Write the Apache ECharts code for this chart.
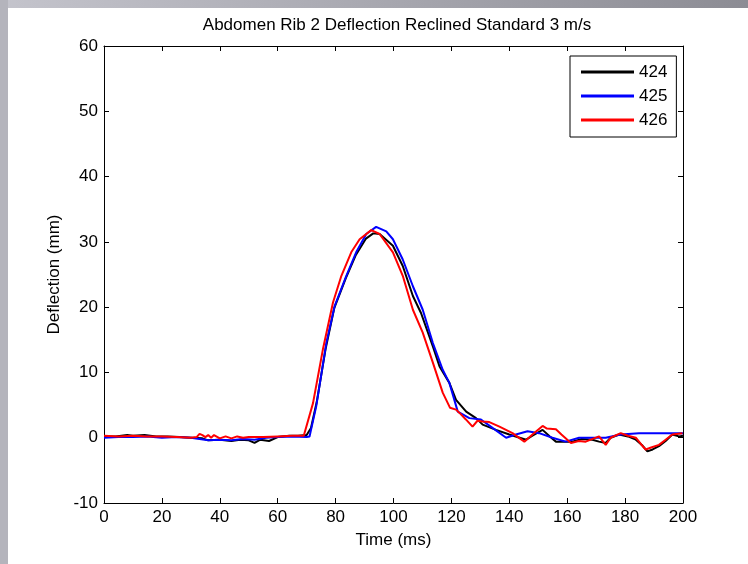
<!DOCTYPE html>
<html>
<head>
<meta charset="utf-8">
<script src="https://cdn.jsdelivr.net/npm/echarts@6/dist/echarts.min.js"></script>
<style>
html,body{margin:0;padding:0;background:#fff;}
#chart{width:748px;height:564px;}
</style>
</head>
<body>
<div id="chart"></div>
<script>
// ---- data ----
const chartTitle = 'Abdomen Rib 2 Deflection Reclined Standard 3 m/s';
const xName = 'Time (ms)';
const yName = 'Deflection (mm)';
const seriesNames = ['424', '425', '426'];
const seriesColors = ['#000000', '#0000ff', '#ff0000'];
const xTicks = [0, 20, 40, 60, 80, 100, 120, 140, 160, 180, 200];
const yTicks = [-10, 0, 10, 20, 30, 40, 50, 60];

const s424 = [[0,0.2],[4,0.2],[8,0.4],[10,0.3],[14,0.4],[18,0.2],[22,0.2],[26,0.1],[30,0],[34,-0.1],[36,-0.4],[40,-0.3],[44,-0.5],[47,-0.3],[50,-0.4],[52,-0.8],[54,-0.3],[57,-0.5],[60,0.1],[64,0.3],[67,0.3],[70,0.4],[71.5,1.5],[73.5,5.5],[76.5,13.5],[79.5,19.8],[83.5,24.4],[87,28],[90.5,30.5],[93,31.3],[95.2,31.2],[99.8,29.4],[103.2,26.3],[106.7,21.7],[109.5,19.1],[113.6,14],[115.9,10.9],[119.3,8.4],[121.6,5.8],[125.1,4],[128.5,3],[130.8,2],[135.4,1.2],[140,0.5],[145.8,-0.3],[148,0.3],[151.5,1.2],[154,0.2],[156.1,-0.6],[161.8,-0.6],[165,-0.2],[168.7,-0.3],[171,-0.6],[173.3,-0.8],[175,0],[177.9,0.5],[181,0.2],[183.7,-0.3],[186,-1.2],[187.7,-2.1],[189.5,-1.8],[191.7,-1.3],[194,-0.5],[196.3,0.5],[198.6,0.2],[200,0.3]];

const s425 = [[0,0],[5,0.1],[10,0.1],[15,0.2],[20,0],[25,0.1],[30,0],[33,-0.2],[36,-0.4],[40,-0.3],[44,-0.4],[48,-0.2],[52,-0.3],[56,0],[60,0.1],[65,0.2],[70,0.1],[71,0.2],[73.3,4.8],[76.8,14.5],[79.7,20.2],[83.7,24.8],[87.1,28.4],[90.6,31.2],[94,32.3],[97.5,31.6],[99.8,30.4],[103.2,27.3],[106.7,23.2],[110.1,19.6],[113.6,14.5],[117,10.4],[119.3,8.4],[122.2,4],[126.2,3],[130.2,2.8],[134.2,1.5],[138.9,0],[142.3,0.5],[146.3,1],[150.3,0.7],[154.9,0],[159.5,-0.6],[164.1,0],[168.7,0],[173.3,0],[178.5,0.5],[184.8,0.7],[190.6,0.7],[196.3,0.7],[200,0.7]];

const s426 = [[0,0.3],[5,0.2],[10,0.3],[15,0.2],[20,0.2],[25,0.1],[30,0],[32,0.1],[33,0.6],[34,0.4],[35,0.1],[36,0.4],[37,0],[38,0.4],[40,-0.1],[42,0.2],[44,-0.1],[46,0.2],[48,0],[50,0.1],[55,0.1],[60,0.2],[65,0.3],[69,0.3],[72.2,5.3],[75.6,13.5],[79.1,20.7],[82,24.8],[85.4,28.4],[88.3,30.4],[92.3,31.8],[95.2,31.2],[99.8,28.4],[103.2,24.8],[106.7,19.6],[110.1,16.1],[113.6,11.5],[117,6.9],[119.5,4.6],[121.6,4.3],[122.8,3.8],[125,2.8],[127.3,1.7],[129,2.6],[130.8,2.5],[133.1,2.4],[136.6,1.7],[141.1,0.7],[145.2,-0.6],[148,0.5],[151.5,1.8],[153,1.4],[156.1,1.3],[158,0.5],[161.3,-0.8],[164,-0.5],[166.4,-0.6],[171,0.2],[173.3,-1.1],[175,0],[178.5,0.7],[181,0.3],[183.7,0],[185.5,-1],[187.1,-1.8],[189,-1.5],[191.7,-1.1],[194,-0.3],[196.3,0.5],[199.8,0.7]];

const seriesData = [s424, s425, s426];

// ---- chart ----
const FONT = 'Liberation Sans, Arial, sans-serif';
const FS = 17;
const chart = echarts.init(document.getElementById('chart'), null, {renderer: 'canvas'});
const xMin = xTicks[0], xMax = xTicks[xTicks.length-1], xInt = xTicks[1]-xTicks[0];
const yMin = yTicks[0], yMax = yTicks[yTicks.length-1], yInt = yTicks[1]-yTicks[0];
const axisLine = {show:true, onZero:false, lineStyle:{color:'#000', width:1}};
const tickIn = {show:true, inside:true, length:5, lineStyle:{color:'#000', width:1}};

chart.setOption({
  animation: false,
  backgroundColor: '#ffffff',
  textStyle: {fontFamily: FONT},
  graphic: [
    {type:'rect', left:0, top:0, shape:{width:748, height:8}, z:100,
     style:{fill: new echarts.graphic.LinearGradient(0,0,1,0,[{offset:0,color:'#c4c4cc'},{offset:1,color:'#8c8c94'}])}},
    {type:'rect', left:0, top:0, shape:{width:8, height:564}, z:100,
     style:{fill:'#b4b4bc'}}
  ],
  title: {
    text: chartTitle,
    left: 392, top: 12, textAlign: 'center',
    textStyle: {fontSize: FS, fontWeight: 'normal', color: '#000', fontFamily: FONT}
  },
  legend: {
    data: seriesNames,
    orient: 'vertical',
    left: 570, top: 56,
    padding: [7, 9, 8, 11],
    itemWidth: 53, itemHeight: 3, itemGap: 6,
    icon: 'rect',
    borderColor: '#000', borderWidth: 1,
    backgroundColor: '#fff',
    textStyle: {fontSize: FS, color: '#000', fontFamily: FONT, lineHeight: 18}
  },
  grid: {left: 104, right: 65, top: 46, bottom: 61, containLabel: false},
  xAxis: [
    {type:'value', min:xMin, max:xMax, interval:xInt, position:'bottom',
     name: xName, nameLocation:'middle', nameGap: 29,
     nameTextStyle:{fontSize:FS, color:'#000', fontFamily: FONT},
     axisLine: axisLine, axisTick: tickIn,
     axisLabel:{fontSize:FS, color:'#000', margin:6, fontFamily: FONT},
     splitLine:{show:false}},
    {type:'value', min:xMin, max:xMax, interval:xInt, position:'top',
     axisLine: axisLine, axisTick: tickIn, axisLabel:{show:false}, splitLine:{show:false}}
  ],
  yAxis: [
    {type:'value', min:yMin, max:yMax, interval:yInt, position:'left',
     name: yName, nameLocation:'middle', nameGap: 41,
     nameTextStyle:{fontSize:FS, color:'#000', fontFamily: FONT},
     axisLine: axisLine, axisTick: tickIn,
     axisLabel:{fontSize:FS, color:'#000', margin:6, fontFamily: FONT},
     splitLine:{show:false}},
    {type:'value', min:yMin, max:yMax, interval:yInt, position:'right',
     axisLine: axisLine, axisTick: tickIn, axisLabel:{show:false}, splitLine:{show:false}}
  ],
  series: seriesNames.map((n, i) => ({
    name: n, type: 'line', xAxisIndex: 0, yAxisIndex: 0,
    data: seriesData[i], symbol: 'none', smooth: false,
    lineStyle: {color: seriesColors[i], width: 2},
    itemStyle: {color: seriesColors[i]},
    z: 2 + i
  }))
});
</script>
</body>
</html>
